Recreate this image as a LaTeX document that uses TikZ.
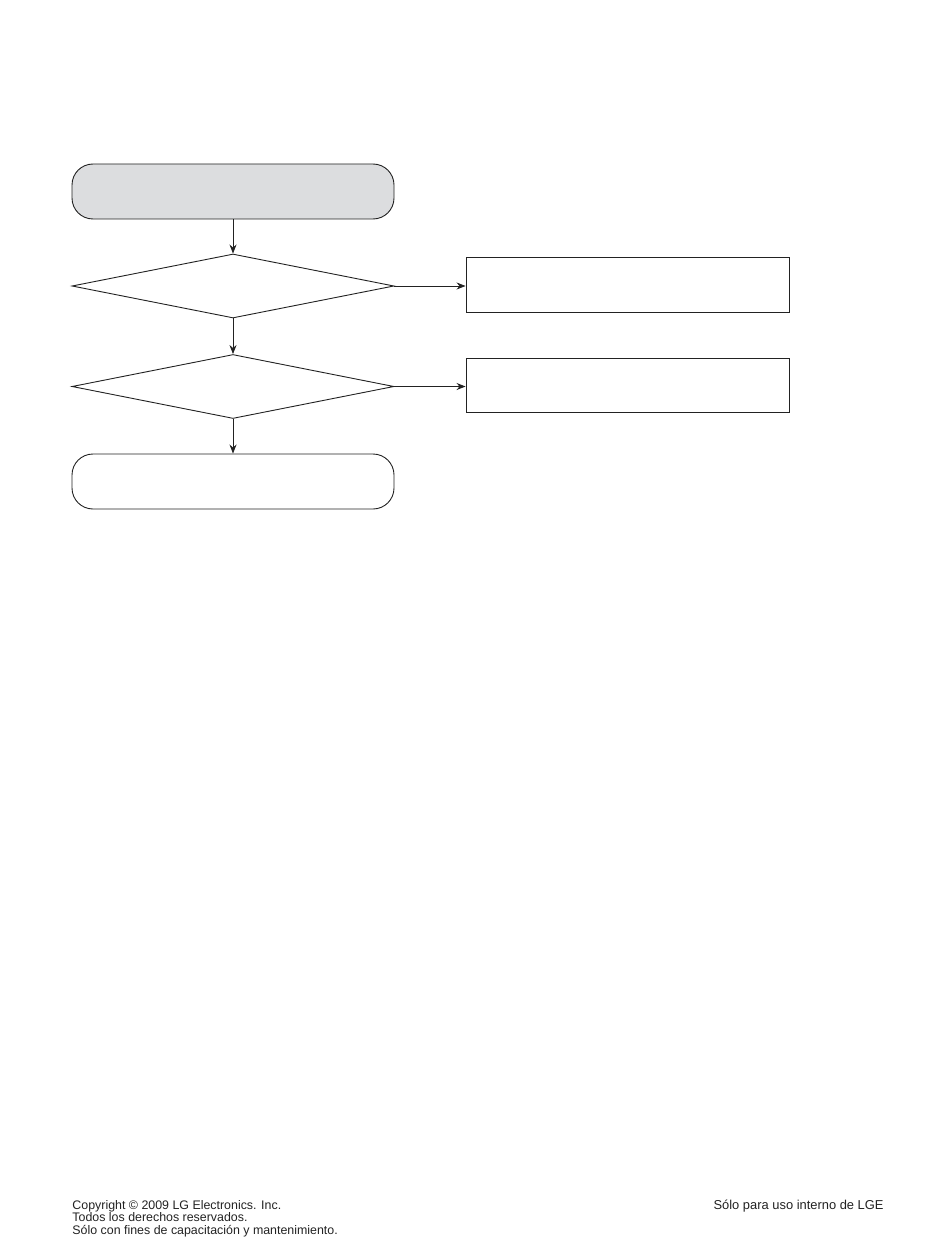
\documentclass[tikz,border=0pt]{standalone}
\usepackage{fontspec}
\setmainfont{Liberation Sans}
\usetikzlibrary{shapes.geometric,arrows.meta}
\definecolor{startgray}{HTML}{DCDDDF}
\definecolor{ink}{HTML}{222222}
\begin{document}
\begin{tikzpicture}[x=1pt,y=-1pt,
  line width=0.9pt, draw=ink,
  term/.style={draw=ink, rounded corners=21pt, minimum width=322pt, minimum height=55pt, inner sep=0pt},
  decis/.style={draw=ink, diamond, minimum width=322pt, minimum height=64pt, inner sep=0pt},
  actbox/.style={draw=ink, rectangle, minimum width=323pt, minimum height=55pt, inner sep=0pt},
  conn/.style={draw=ink, -{Stealth[length=9pt,width=7pt]}},
  foot/.style={font=\fontsize{12.4}{12.6}\selectfont, inner sep=0pt, text=ink}
]
\useasboundingbox (0,0) rectangle (950,1249);
\node[term, fill=startgray] (start) at (233,191.5) {};
\node[decis] (d1) at (233,286) {};
\node[actbox] (b1) at (627.5,284.5) {};
\node[decis] (d2) at (233,386.5) {};
\node[actbox, minimum height=54pt] (b2) at (627.5,385) {};
\node[term] (end) at (233,481.5) {};
\draw[conn] (start.south) -- (d1.north);
\draw[conn] (d1.south) -- (d2.north);
\draw[conn] (d2.south) -- (end.north);
\draw[conn] (d1.east) -- (d1.east -| b1.west);
\draw[conn] (d2.east) -- (d2.east -| b2.west);
\node[foot, anchor=base west, align=left] (copy) at (72,1234.2) {Copyright © 2009 LG Electronics. Inc.\\Todos los derechos reservados.\\Sólo con fines de capacitación y mantenimiento.};
\node[foot, font=\fontsize{12.9}{12.6}\selectfont, anchor=base east] (lge) at (884,1209) {Sólo para uso interno de LGE};
\end{tikzpicture}
\end{document}
